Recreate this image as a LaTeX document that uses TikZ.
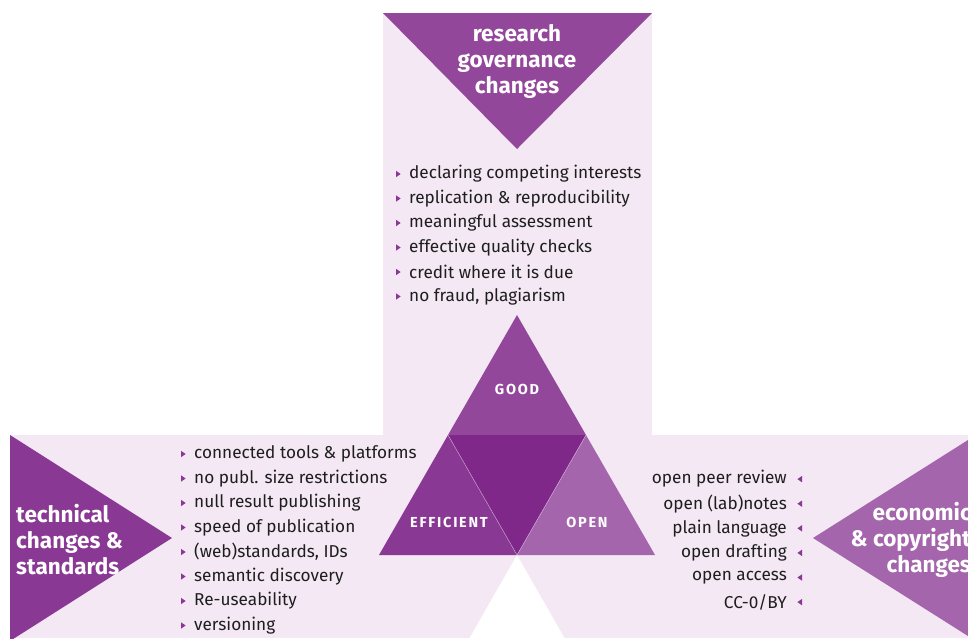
\documentclass[tikz,border=0pt]{standalone}
\usepackage{fontspec}
\setmainfont{Fira Sans}
\newfontfamily\capsfont[LetterSpace=12]{Fira Sans}

\definecolor{bgpink}{RGB}{243,232,243}
\definecolor{goodcol}{RGB}{147,71,155}
\definecolor{midcol}{RGB}{128,39,138}
\definecolor{effcol}{RGB}{137,56,148}
\definecolor{opencol}{RGB}{164,101,173}
\definecolor{textcol}{RGB}{30,30,30}

\tikzset{
  itemtext/.style={inner sep=0pt,text=textcol,font=\fontsize{17.2}{17.2}\selectfont},
  headtext/.style={inner sep=0pt,text=white,font=\bfseries\fontsize{22.5}{26}\selectfont},
  cornertext/.style={inner sep=0pt,text=white,font=\capsfont\bfseries\fontsize{14.5}{14.5}\selectfont},
  bulletR/.pic={\fill[effcol] (-2,-3.2) -- (2.6,0) -- (-2,3.2) -- cycle;},
  bulletL/.pic={\fill[effcol] (2,-3.2) -- (-2.6,0) -- (2,3.2) -- cycle;}
}

\begin{document}
\begin{tikzpicture}[x=1pt,y=-1pt]
  \useasboundingbox (0,0) rectangle (968,638);
  % panels
  \fill[bgpink] (383,13) rectangle (652,436);
  \fill[bgpink] (10,435) rectangle (968,638);
  \fill[white] (517,555) -- (565,639) -- (469,639) -- cycle;
  % outer triangles
  \fill[goodcol] (383,13) -- (652,13) -- (517,149) -- cycle;
  \fill[effcol] (10,435) -- (172,538) -- (10,641) -- cycle;
  \fill[opencol] (968,440) -- (813,538) -- (968,636) -- cycle;
  % central triangle
  \fill[goodcol] (517,315) -- (586,435) -- (448,435) -- cycle;
  \fill[midcol] (448,435) -- (586,435) -- (517,555) -- cycle;
  \fill[effcol] (448,435) -- (517,555) -- (379,555) -- cycle;
  \fill[opencol] (586,435) -- (655,555) -- (517,555) -- cycle;
  \draw[white,opacity=0.4,line width=0.6pt] (448,435) -- (517,555) -- (586,435);

  \node[headtext,align=center] (gov) at (517,61) {research\\governance\\changes};
  \node[headtext,align=left,anchor=west] (tech) at (16,540) {technical\\changes \&\\standards};
  \node[headtext,align=right,anchor=east] (econ) at (971,540) {economic\\\& copyright\\changes};

  \node[cornertext] (good) at (517,389) {GOOD};
  \node[cornertext] (eff) at (449,522) {EFFICIENT};
  \node[cornertext] (open) at (587,522) {OPEN};

  % lists
  \foreach \txt [count=\i] in {declaring competing interests, replication \& reproducibility,
      meaningful assessment, effective quality checks, credit where it is due,
      {no fraud, plagiarism}}
  {
    \node[itemtext,anchor=west] (gov\i) at (409,{149.5+24.5*\i}) {\txt};
    \pic at ([xshift=-11pt]gov\i.west) {bulletR};
  }
  \foreach \txt [count=\i] in {connected tools \& platforms, no publ. size restrictions,
      null result publishing, speed of publication, {(web)standards, IDs},
      semantic discovery, Re-useability, versioning}
  {
    \node[itemtext,anchor=west] (tech\i) at (194,{429.5+24.5*\i}) {\txt};
    \pic at ([xshift=-11pt]tech\i.west) {bulletR};
  }
  \foreach \txt [count=\i] in {open peer review, open (lab)notes, plain language,
      open drafting, open access, CC-0/BY}
  {
    \node[itemtext,anchor=east] (econ\i) at (787,{454.5+24.6*\i}) {\txt};
    \pic at ([xshift=13pt]econ\i.east) {bulletL};
  }
\end{tikzpicture}
\end{document}
